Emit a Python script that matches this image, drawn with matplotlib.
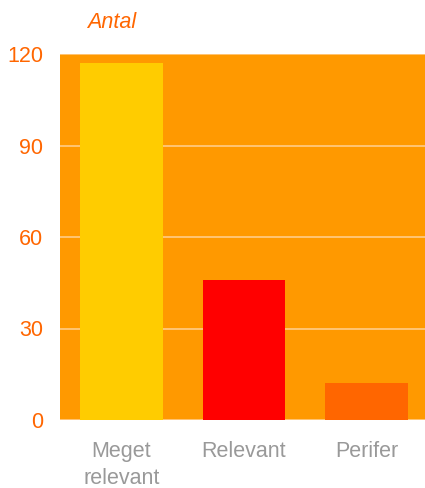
import matplotlib
matplotlib.use("Agg")
import matplotlib.pyplot as plt

categories = ["Meget\nrelevant", "Relevant", "Perifer"]
values = [117, 46, 12]
bar_colors = ["#FFCC00", "#FF0000", "#FF6600"]
yticks = [0, 30, 60, 90, 120]

plt.rcParams['font.family'] = ['Liberation Sans', 'DejaVu Sans']

fig = plt.figure(figsize=(4.25, 4.88), dpi=100)
ax = fig.add_axes([60/425, 1-420/488, 368/425, 366/488])
ax.set_facecolor("#FF9900")
x = range(len(categories))
ax.bar(x, values, width=0.675, color=bar_colors, zorder=3)
ax.set_xlim(-0.5, 2.5)
ax.set_ylim(0, 120)
ax.set_yticks(yticks)
ax.yaxis.grid(True, color="#FFCC88", linewidth=1.2, zorder=1)
ax.set_axisbelow(True)
ax.set_xticks(list(x))
ax.set_xticklabels(categories, color="#999999", fontsize=15.5, linespacing=1.38)
for lbl in ax.get_yticklabels():
    lbl.set_color("#FF6600")
    lbl.set_fontsize(15.5)
ax.tick_params(length=0, axis='y', pad=12)
ax.tick_params(length=0, axis='x', pad=15)
for s in ax.spines.values():
    s.set_visible(False)
fig.text(87/425, 1-22/488, "Antal", color="#FF6600", fontstyle="italic",
         fontsize=15.5, va="center", ha="left")
fig.savefig("out.png", dpi=100)
